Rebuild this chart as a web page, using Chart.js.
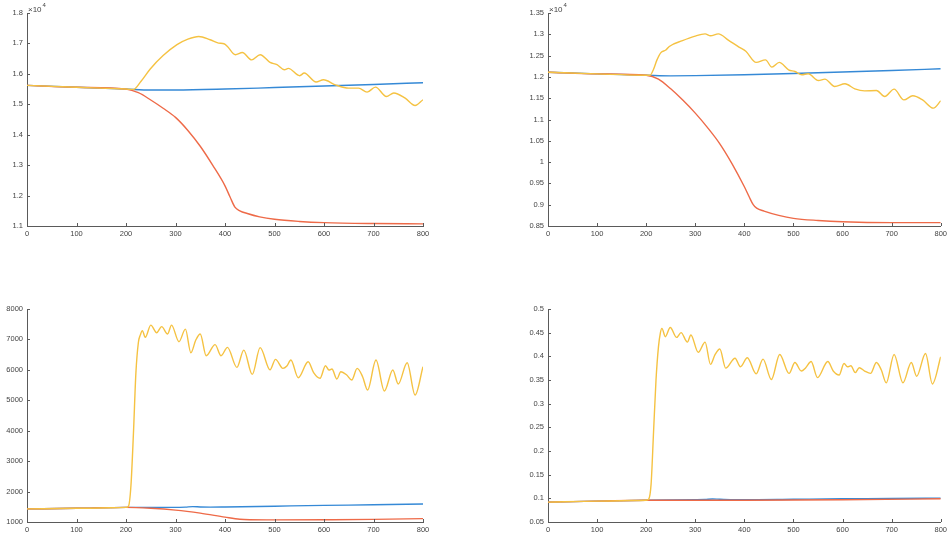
<!DOCTYPE html>
<html lang="en">
<head>
    <meta charset="UTF-8">
    <title>Four panels</title>
    <script src="https://cdn.jsdelivr.net/npm/chart.js"></script>
    <style>
        body {
            margin: 0;
            background: #fff;
            width: 950px;
            height: 539px;
            overflow: hidden;
            position: relative;
        }

        .panel {
            position: absolute;
        }

        .panel canvas {
            display: block;
        }
    </style>
</head>
<body>
<div class="panel" style="left:0;top:0"><canvas id="c1" width="450" height="245"></canvas></div>
<div class="panel" style="left:521px;top:0"><canvas id="c2" width="429" height="245"></canvas></div>
<div class="panel" style="left:0;top:290px"><canvas id="c3" width="450" height="249"></canvas></div>
<div class="panel" style="left:521px;top:290px"><canvas id="c4" width="429" height="249"></canvas></div>

<script>
    // x ticks shared by all panels
    const xTicks = [0, 100, 200, 300, 400, 500, 600, 700, 800];

    // top left panel (x10^4)
    const tlYTicks = [11000, 12000, 13000, 14000, 15000, 16000, 17000, 18000];
    const tlBlueX = [0, 100, 200, 250, 300, 400, 500, 600, 700, 800];
    const tlBlueY = [15620, 15560, 15500, 15470, 15470, 15500, 15550, 15600, 15650, 15710];
    const tlRedX = [0, 100, 200, 225, 250, 275, 300, 325, 350, 375, 400, 410, 420, 430, 445, 470, 500, 550, 600, 700, 800];
    const tlRedY = [15620, 15560, 15500, 15380, 15140, 14870, 14570, 14140, 13620, 13000, 12320, 11960, 11620, 11500, 11410, 11300, 11220, 11150, 11110, 11080, 11070];
    const tlYellowX = [0, 100, 200, 215, 230, 249, 275, 303, 325, 347, 370, 387, 398, 405, 421, 435, 454, 471, 491, 505, 520, 528, 551, 560, 584, 599, 623, 650, 670, 687, 704, 726, 741, 764, 784, 800];
    const tlYellowY = [15620, 15560, 15500, 15490, 15750, 16160, 16600, 16960, 17140, 17230, 17120, 17010, 16990, 16900, 16630, 16700, 16460, 16630, 16375, 16300, 16135, 16180, 15940, 16026, 15730, 15806, 15640, 15530, 15530, 15400, 15565, 15256, 15370, 15200, 14960, 15150];

    // top right panel (x10^4)
    const trYTicks = [8500, 9000, 9500, 10000, 10500, 11000, 11500, 12000, 12500, 13000, 13500];
    const trBlueX = [0, 100, 200, 250, 300, 400, 500, 600, 700, 800];
    const trBlueY = [12110, 12070, 12040, 12025, 12030, 12050, 12080, 12115, 12150, 12190];
    const trRedX = [0, 100, 200, 225, 250, 275, 300, 325, 350, 375, 400, 410, 418, 425, 440, 470, 500, 550, 600, 700, 800];
    const trRedY = [12110, 12070, 12040, 11950, 11720, 11450, 11150, 10810, 10430, 9960, 9420, 9180, 9000, 8920, 8850, 8750, 8680, 8630, 8600, 8580, 8580];
    const trYellowX = [0, 100, 200, 208, 215, 222, 230, 240, 247, 274, 298, 320, 331, 347, 368, 389, 403, 424, 443, 456, 471, 490, 503, 517, 530, 551, 564, 584, 605, 625, 645, 669, 686, 705, 725, 743, 763, 785, 800];
    const trYellowY = [12110, 12070, 12040, 12040, 12180, 12400, 12570, 12630, 12715, 12850, 12950, 13010, 12966, 13010, 12856, 12700, 12600, 12340, 12400, 12230, 12340, 12167, 12127, 12050, 12073, 11916, 11948, 11775, 11838, 11720, 11673, 11680, 11540, 11713, 11460, 11556, 11460, 11267, 11438];

    // bottom left panel
    const blYTicks = [1000, 2000, 3000, 4000, 5000, 6000, 7000, 8000];
    const blBlueX = [0, 100, 200, 300, 320, 335, 350, 370, 400, 500, 600, 700, 800];
    const blBlueY = [1430, 1450, 1480, 1480, 1490, 1505, 1495, 1490, 1495, 1520, 1545, 1565, 1590];
    const blRedX = [0, 100, 200, 250, 300, 350, 400, 430, 450, 500, 600, 700, 800];
    const blRedY = [1430, 1450, 1480, 1450, 1390, 1290, 1160, 1090, 1075, 1070, 1075, 1085, 1110];
    const blYellowX = [0, 100, 200, 205, 210, 215, 220, 225, 229, 233, 239, 250, 262, 272, 284, 292, 307, 320, 331, 341, 350, 362, 380, 392, 405, 424, 438, 455, 471, 491, 502, 517, 525, 533, 548, 568, 579, 592, 603, 610, 616, 626, 634, 646, 656, 667, 678, 688, 705, 722, 739, 750, 768, 784, 800];
    const blYellowY = [1430, 1450, 1480, 1520, 2200, 3900, 5900, 6900, 7150, 7290, 7070, 7470, 7220, 7420, 7180, 7470, 6925, 7340, 6560, 6980, 7180, 6465, 6830, 6465, 6740, 6080, 6650, 5850, 6730, 6000, 6346, 6050, 6126, 6323, 5742, 6268, 5906, 5722, 6136, 5995, 6028, 5699, 5939, 5830, 5666, 6050, 5775, 5337, 6323, 5305, 5995, 5535, 6235, 5173, 6104];

    // bottom right panel
    const brYTicks = [0.05, 0.1, 0.15, 0.2, 0.25, 0.3, 0.35, 0.4, 0.45, 0.5];
    const brBlueX = [0, 100, 200, 300, 320, 335, 350, 400, 500, 600, 700, 800];
    const brBlueY = [0.092, 0.094, 0.096, 0.097, 0.0975, 0.0985, 0.098, 0.097, 0.098, 0.099, 0.0995, 0.1005];
    const brRedX = [0, 100, 200, 400, 600, 800];
    const brRedY = [0.092, 0.094, 0.096, 0.096, 0.097, 0.099];
    const brYellowX = [0, 100, 200, 205, 210, 215, 220, 225, 229, 232, 239, 249, 262, 271, 284, 291, 306, 320, 331, 340, 350, 362, 381, 392, 406, 424, 438, 455, 472, 491, 503, 516, 525, 536, 549, 570, 581, 593, 603, 610, 617, 626, 634, 645, 657, 669, 679, 689, 705, 723, 740, 751, 769, 783, 800];
    const brYellowY = [0.092, 0.094, 0.096, 0.098, 0.13, 0.24, 0.35, 0.42, 0.45, 0.459, 0.4415, 0.461, 0.440, 0.450, 0.430, 0.445, 0.4085, 0.430, 0.383, 0.403, 0.4155, 0.375, 0.396, 0.378, 0.397, 0.363, 0.394, 0.351, 0.404, 0.364, 0.387, 0.369, 0.376, 0.389, 0.355, 0.389, 0.369, 0.3606, 0.385, 0.378, 0.380, 0.3655, 0.376, 0.369, 0.364, 0.387, 0.371, 0.344, 0.404, 0.344, 0.387, 0.358, 0.406, 0.3416, 0.399];

    const BLUE = '#3589d6';
    const RED = '#ee6a48';
    const YELLOW = '#f5c242';
    const AXIS = '#5a5a5a';
    const FONT = "'Liberation Sans', Arial, sans-serif";

    function pts(xs, ys) {
        return xs.map((x, i) => ({x: x, y: ys[i]}));
    }

    function line(xs, ys, color, order) {
        return {
            data: pts(xs, ys),
            borderColor: color,
            borderWidth: 1.4,
            pointRadius: 0,
            cubicInterpolationMode: 'monotone',
            fill: false,
            order: order
        };
    }

    // MATLAB style ticks pointing into the plot, plus the x10^4 label
    const matlabAxes = {
        id: 'matlabAxes',
        afterDraw(chart, args, opts) {
            const ctx = chart.ctx;
            const area = chart.chartArea;
            const xs = chart.scales.x, ys = chart.scales.y;
            ctx.save();
            ctx.strokeStyle = AXIS;
            ctx.lineWidth = 1;
            ctx.beginPath();
            xs.ticks.forEach(t => {
                const px = Math.round(xs.getPixelForValue(t.value)) + 0.5;
                ctx.moveTo(px, area.bottom);
                ctx.lineTo(px, area.bottom - 3);
            });
            ys.ticks.forEach(t => {
                const py = Math.round(ys.getPixelForValue(t.value)) + 0.5;
                ctx.moveTo(area.left, py);
                ctx.lineTo(area.left + 3, py);
            });
            ctx.stroke();
            if (opts.exponent) {
                ctx.fillStyle = '#444';
                ctx.textBaseline = 'alphabetic';
                ctx.textAlign = 'left';
                ctx.font = '8px ' + FONT;
                ctx.fillText('×10', area.left + 1, area.top - 1);
                const w = ctx.measureText('×10').width;
                ctx.font = '6px ' + FONT;
                ctx.fillText(opts.exponent, area.left + 2 + w, area.top - 6);
            }
            ctx.restore();
        }
    };

    function makePanel(id, sets, yTicks, yFmt, pad, xHeight, exponent) {
        new Chart(document.getElementById(id), {
            type: 'line',
            data: {datasets: sets},
            plugins: [matlabAxes],
            options: {
                responsive: false,
                animation: false,
                layout: {padding: {top: pad.top, right: pad.right, left: 0, bottom: 0}},
                plugins: {
                    legend: {display: false},
                    tooltip: {enabled: false},
                    matlabAxes: {exponent: exponent}
                },
                scales: {
                    x: {
                        type: 'linear',
                        min: 0,
                        max: 800,
                        afterBuildTicks: s => { s.ticks = xTicks.map(v => ({value: v})); },
                        afterFit: s => { s.height = xHeight; },
                        grid: {display: true, drawOnChartArea: false, drawTicks: false},
                        border: {display: true, color: AXIS, width: 1},
                        ticks: {
                            padding: 3,
                            color: '#444',
                            font: {family: FONT, size: 7.5},
                            maxRotation: 0,
                            autoSkip: false
                        }
                    },
                    y: {
                        type: 'linear',
                        min: yTicks[0],
                        max: yTicks[yTicks.length - 1],
                        afterBuildTicks: s => { s.ticks = yTicks.map(v => ({value: v})); },
                        afterFit: s => { s.width = 27; },
                        grid: {display: true, drawOnChartArea: false, drawTicks: false},
                        border: {display: true, color: AXIS, width: 1},
                        ticks: {
                            padding: 4,
                            color: '#444',
                            font: {family: FONT, size: 7.5},
                            autoSkip: false,
                            callback: yFmt
                        }
                    }
                }
            }
        });
    }

    const fmtE4 = v => String(parseFloat((v / 1e4).toFixed(2)));
    const fmtPlain = v => String(parseFloat(v.toFixed(2)));

    makePanel('c1', [
        line(tlBlueX, tlBlueY, BLUE, 3),
        line(tlRedX, tlRedY, RED, 2),
        line(tlYellowX, tlYellowY, YELLOW, 1)
    ], tlYTicks, fmtE4, {top: 13, right: 27}, 19, '4');

    makePanel('c2', [
        line(trBlueX, trBlueY, BLUE, 3),
        line(trRedX, trRedY, RED, 2),
        line(trYellowX, trYellowY, YELLOW, 1)
    ], trYTicks, fmtE4, {top: 13, right: 7}, 19, '4');

    makePanel('c3', [
        line(blBlueX, blBlueY, BLUE, 3),
        line(blRedX, blRedY, RED, 2),
        line(blYellowX, blYellowY, YELLOW, 1)
    ], blYTicks, fmtPlain, {top: 19, right: 27}, 17, null);

    makePanel('c4', [
        line(brBlueX, brBlueY, BLUE, 3),
        line(brRedX, brRedY, RED, 2),
        line(brYellowX, brYellowY, YELLOW, 1)
    ], brYTicks, fmtPlain, {top: 19, right: 7}, 17, null);
</script>
</body>
</html>
